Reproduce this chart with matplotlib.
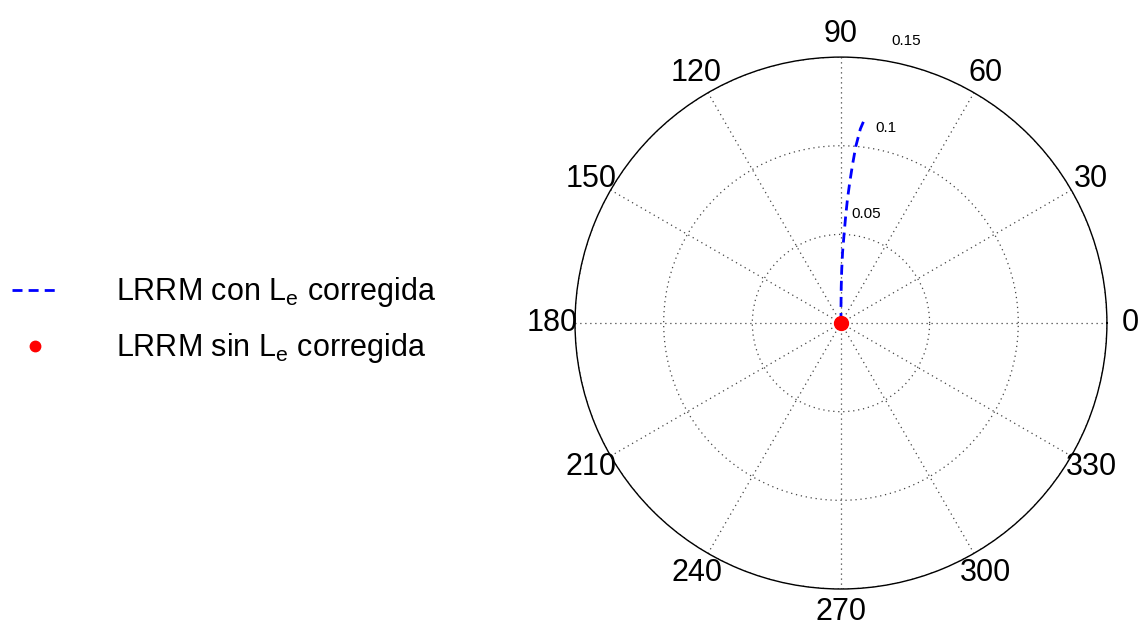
import numpy as np
import matplotlib
matplotlib.use("Agg")
import matplotlib.pyplot as plt

plt.rcParams['font.family'] = ['Liberation Sans', 'DejaVu Sans']
plt.rcParams['mathtext.fontset'] = 'custom'
plt.rcParams['mathtext.rm'] = 'Liberation Sans'
plt.rcParams['mathtext.it'] = 'Liberation Sans'

# Data
con_theta_deg = [90.0, 89.9, 89.6, 89.2, 88.7, 88.0, 87.5, 87.0, 86.4, 85.8, 85.2, 84.3, 83.6]
con_r = [0.0, 0.01, 0.02, 0.03, 0.04, 0.05, 0.06, 0.07, 0.08, 0.09, 0.10, 0.11, 0.1145]
sin_theta_deg = [0.0]
sin_r = [0.0]

theta_ticks = [0, 30, 60, 90, 120, 150, 180, 210, 240, 270, 300, 330]
theta_labels = ['0', '30', '60', '90', '120', '150', '180', '210', '240', '270', '300', '330']
r_ticks = [0.05, 0.1, 0.15]
r_labels = ['0.05', '0.1', '0.15']
r_max = 0.15

label_con = r'LRRM con L$_\mathrm{e}$ corregida'
label_sin = r'LRRM sin L$_\mathrm{e}$ corregida'

fig = plt.figure(figsize=(11.42, 6.28), dpi=100)
ax = fig.add_axes([0.5035, 0.0621, 0.4658, 0.847], projection='polar')

l1, = ax.plot(np.deg2rad(con_theta_deg), con_r, color='#0000ff', lw=2.0,
              linestyle=(0, (3.6, 2.2)), label=label_con, zorder=3)
l2, = ax.plot(np.deg2rad(sin_theta_deg), sin_r, 'o', color='#ff0000', ms=10,
              label=label_sin, zorder=4)

ax.set_ylim(0, r_max)
ax.set_thetagrids(theta_ticks, theta_labels, fontsize=22)
ax.set_rgrids(r_ticks, [''] * len(r_ticks))
ax.tick_params(axis='x', pad=6)
ax.grid(True, color='#444444', linestyle=(0, (1, 3)), lw=0.9)
ax.spines['polar'].set_color('black')
ax.spines['polar'].set_linewidth(1.0)

for rv, lab in zip(r_ticks, r_labels):
    ax.text(np.deg2rad(77.0), rv + 0.013, lab, fontsize=11, ha='center', va='center',
            clip_on=False)

fig.legend(handles=[l1, l2], loc='center left', bbox_to_anchor=(0.0, 0.49),
           frameon=False, fontsize=22, handlelength=1.5, handletextpad=1.9,
           labelspacing=0.72, borderaxespad=0.0, borderpad=0.4, markerscale=0.75)

fig.savefig('out.png', dpi=100)
